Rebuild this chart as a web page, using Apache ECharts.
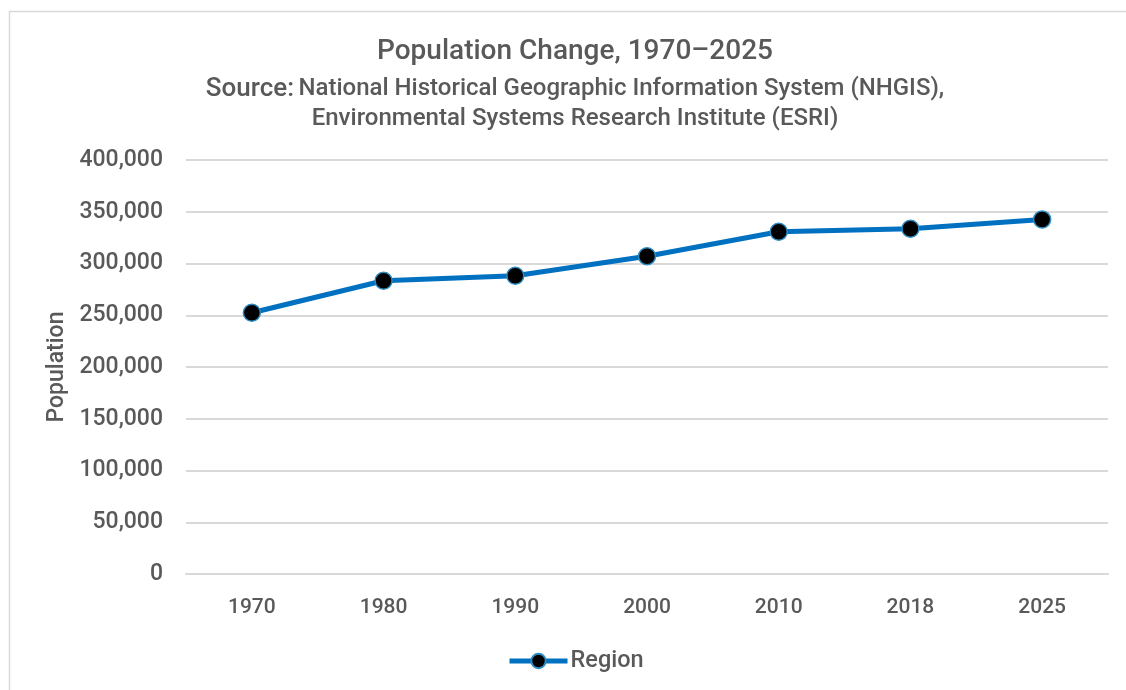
<!DOCTYPE html>
<html>
<head>
<meta charset="utf-8">
<script src="https://cdn.jsdelivr.net/npm/echarts@6/dist/echarts.min.js"></script>
<style>
html,body{margin:0;padding:0;background:#fff;}
#chart{width:1126px;height:690px;}
</style>
</head>
<body>
<div id="chart"></div>
<script>
const years = ['1970', '1980', '1990', '2000', '2010', '2018', '2025'];
const regionPopulation = [252400, 283300, 288200, 307000, 330700, 333600, 342600];
const yTicks = { min: 0, max: 400000, interval: 50000 };
const seriesName = 'Region';
const titleText = 'Population Change, 1970\u20132025';
const subtitleLabel = 'Source:';
const subtitleLine1 = 'National Historical Geographic Information System (NHGIS),';
const subtitleLine2 = 'Environmental Systems Research Institute (ESRI)';

const FONT = 'Roboto';
const GRAY = '#595959';
const W = 500;
const CX = 570;
const chart = echarts.init(document.getElementById('chart'));
chart.setOption({
  animation: false,
  backgroundColor: '#fff',
  textStyle: { fontFamily: FONT },
  graphic: [{
    type: 'rect',
    shape: { x: 9.5, y: 11.5, width: 1300, height: 800 },
    style: { fill: 'none', stroke: '#d9d9d9', lineWidth: 1.5 },
    silent: true
  }],
  title: [{
    text: titleText,
    left: CX,
    textAlign: 'center',
    top: 33,
    textStyle: { fontFamily: FONT, fontSize: 28, fontWeight: W, color: GRAY }
  }, {
    text: '{s|' + subtitleLabel + '} {n|' + subtitleLine1 + '}',
    left: CX,
    textAlign: 'center',
    top: 71,
    textStyle: {
      fontFamily: FONT, color: GRAY, fontWeight: W,
      rich: {
        s: { fontFamily: FONT, fontSize: 26, fontWeight: W, color: GRAY },
        n: { fontFamily: FONT, fontSize: 24, fontWeight: W, color: GRAY }
      }
    }
  }, {
    text: subtitleLine2,
    left: CX,
    textAlign: 'center',
    top: 102,
    textStyle: { fontFamily: FONT, fontSize: 24, fontWeight: W, color: GRAY }
  }],
  legend: {
    bottom: 12,
    left: 502,
    itemWidth: 58,
    itemHeight: 18,
    itemGap: 4,
    lineStyle: { width: 5 },
    textStyle: { fontFamily: FONT, fontSize: 23.5, fontWeight: W, color: GRAY, padding: [0, 0, 0, -2] },
    data: [seriesName]
  },
  grid: { left: 186, right: 18, top: 160, bottom: 116, containLabel: false },
  xAxis: {
    type: 'category',
    data: years,
    boundaryGap: true,
    axisLine: { show: true, lineStyle: { color: '#d9d9d9', width: 2 } },
    axisTick: { show: false },
    axisLabel: { fontFamily: FONT, fontSize: 21, fontWeight: W, color: GRAY, margin: 23 }
  },
  yAxis: {
    type: 'value',
    min: yTicks.min,
    max: yTicks.max,
    interval: yTicks.interval,
    name: 'Population',
    nameLocation: 'middle',
    nameGap: 114,
    nameRotate: 90,
    nameTextStyle: { fontFamily: FONT, fontSize: 23, fontWeight: W, color: GRAY },
    axisLine: { show: false },
    axisTick: { show: false },
    splitLine: { lineStyle: { color: '#d9d9d9', width: 2 } },
    axisLabel: {
      fontFamily: FONT, fontSize: 23, fontWeight: W, color: GRAY, margin: 23,
      formatter: v => v.toLocaleString('en-US')
    }
  },
  series: [{
    name: seriesName,
    type: 'line',
    data: regionPopulation,
    color: '#0070C0',
    lineStyle: { color: '#0070C0', width: 5 },
    itemStyle: { color: '#000', borderColor: '#2E8BC0', borderWidth: 1.5 },
    symbol: 'circle',
    symbolSize: 17
  }]
});
</script>
</body>
</html>
